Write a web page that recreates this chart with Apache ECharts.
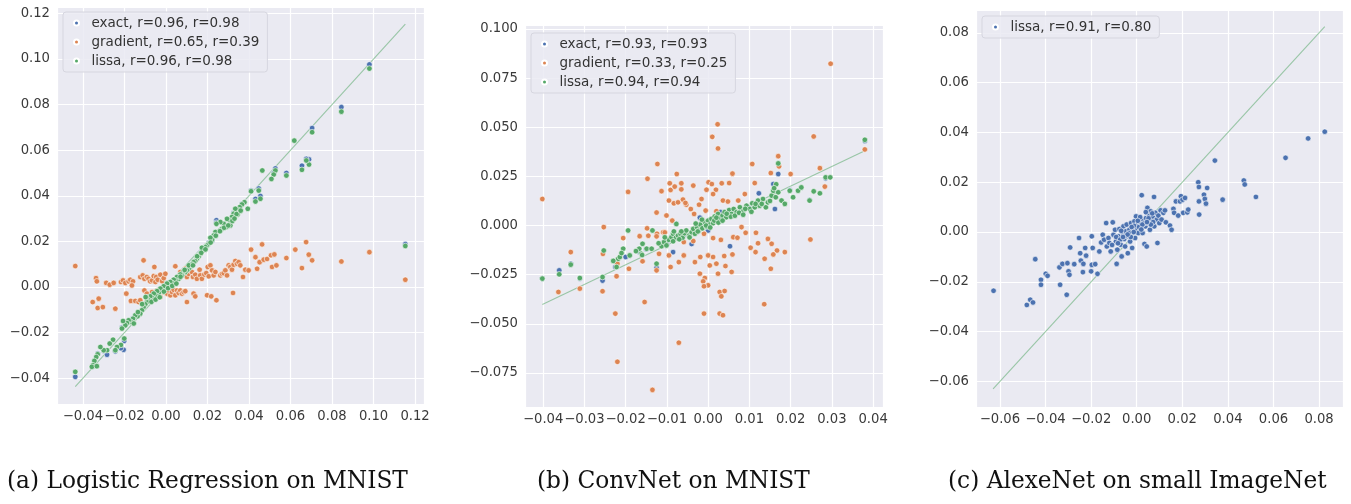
<!DOCTYPE html>
<html><head><meta charset="utf-8">
<script src="https://cdn.jsdelivr.net/npm/echarts@6/dist/echarts.min.js"></script>
<style>html,body{margin:0;padding:0;background:#fff}#c{width:1351px;height:504px}</style>
</head><body><div id="c"></div>
<script>
// ---------- DATA ----------
const captions = ['(a) Logistic Regression on MNIST', '(b) ConvNet on MNIST', '(c) AlexeNet on small ImageNet'];
const legendA = ['exact, r=0.96, r=0.98', 'gradient, r=0.65, r=0.39', 'lissa, r=0.96, r=0.98'];
const legendB = ['exact, r=0.93, r=0.93', 'gradient, r=0.33, r=0.25', 'lissa, r=0.94, r=0.94'];
const legendC = ['lissa, r=0.91, r=0.80'];

const aXTicks = [-0.04, -0.02, 0, 0.02, 0.04, 0.06, 0.08, 0.10, 0.12];
const aYTicks = [-0.04, -0.02, 0, 0.02, 0.04, 0.06, 0.08, 0.10, 0.12];
const bXTicks = [-0.04, -0.03, -0.02, -0.01, 0, 0.01, 0.02, 0.03, 0.04];
const bYTicks = [-0.075, -0.05, -0.025, 0, 0.025, 0.05, 0.075, 0.1];
const cXTicks = [-0.06, -0.04, -0.02, 0, 0.02, 0.04, 0.06, 0.08];
const cYTicks = [-0.06, -0.04, -0.02, 0, 0.02, 0.04, 0.06, 0.08];

const aRangeX = [-0.0525, 0.1243], aRangeY = [-0.0513, 0.1228];
const bRangeX = [-0.0444, 0.0424], bRangeY = [-0.0923, 0.102];
const cRangeX = [-0.0705, 0.0905], cRangeY = [-0.0703, 0.0892];

const aDiag = [-0.0437, 0.1153];
const bDiag = [-0.0402, 0.0380];
const cDiag = [-0.0630, 0.0825];

const aExact = [[0.1153,0.0188],[0.0980,0.0976],[0.0845,0.0789],[0.0704,0.0697],[0.0689,0.0560],[0.0676,0.0562],[0.0655,0.0532],[0.0580,0.0500],[0.0527,0.0520],[0.0519,0.0500],[0.0455,0.0399],[0.0447,0.0432],[0.0431,0.0386],[0.0410,0.0423],[0.0366,0.0365],[0.0345,0.0343],[0.0326,0.0325],[0.0307,0.0296],[0.0243,0.0293],[0.0243,0.0282],[0.0222,0.0203],[0.0206,0.0194],[0.0165,0.0150],[0.0125,0.0102],[0.0085,0.0073],[0.0045,0.0032],[0.0005,0.0017],[-0.0035,-0.0024],[-0.0076,-0.0038],[-0.0108,-0.0086],[-0.0137,-0.0125],[-0.0159,-0.0137],[-0.0188,-0.0156],[-0.0212,-0.0178],[-0.0201,-0.0236],[-0.0204,-0.0275],[-0.0217,-0.0268],[-0.0244,-0.0282],[-0.0284,-0.0297],[-0.0300,-0.0280],[-0.0329,-0.0292],[-0.0352,-0.0348],[-0.0437,-0.0394]];

const aGradient = [[-0.0437,0.0092],[-0.0337,0.0039],[-0.0333,0.0025],[-0.0353,-0.0066],[-0.0324,-0.0051],[-0.0329,-0.0092],[-0.0304,-0.0088],[-0.0244,-0.0095],[-0.0288,0.0018],[-0.0271,0.0010],[-0.0252,0.0018],[-0.0217,0.0022],[-0.0191,-0.0029],[-0.0207,0.0029],[-0.0196,0.0018],[-0.0180,0.0025],[-0.0172,0.0032],[-0.0159,0.0025],[-0.0164,0.0007],[-0.0169,-0.0061],[-0.0148,-0.0061],[-0.0132,-0.0066],[-0.0124,-0.0058],[-0.0124,0.0044],[-0.0112,0.0051],[-0.0104,0.0036],[-0.0092,0.0044],[-0.0084,0.0036],[-0.0076,0.0025],[-0.0067,0.0029],[-0.0059,0.0048],[-0.0051,0.0022],[-0.0047,0.0044],[-0.0040,0.0032],[-0.0027,0.0054],[-0.0019,0.0026],[-0.0011,0.0039],[-0.0003,0.0058],[-0.0108,0.0117],[-0.0056,0.0088],[-0.0104,-0.0015],[-0.0092,-0.0029],[-0.0084,-0.0058],[-0.0079,-0.0044],[-0.0067,-0.0022],[-0.0059,-0.0036],[-0.0056,-0.0051],[-0.0043,-0.0015],[-0.0035,-0.0029],[-0.0027,-0.0044],[-0.0014,-0.0022],[-0.0008,-0.0007],[0.0005,-0.0029],[0.0013,-0.0015],[0.0021,-0.0036],[0.0029,-0.0022],[0.0037,-0.0012],[0.0045,-0.0036],[0.0053,-0.0015],[0.0061,-0.0026],[0.0069,-0.0015],[0.0077,-0.0029],[0.0085,-0.0022],[0.0101,-0.0066],[0.0093,-0.0018],[0.0133,-0.0029],[0.0141,-0.0041],[0.0045,0.0091],[0.0069,0.0066],[0.0093,0.0080],[0.0101,0.0044],[0.0109,0.0058],[0.0125,0.0066],[0.0130,0.0044],[0.0141,0.0054],[0.0149,0.0036],[0.0162,0.0076],[0.0165,0.0051],[0.0173,0.0036],[0.0185,0.0055],[0.0194,0.0061],[0.0201,0.0088],[0.0206,0.0047],[0.0214,0.0095],[0.0222,0.0073],[0.0230,0.0051],[0.0238,0.0066],[0.0198,-0.0036],[0.0218,-0.0041],[0.0243,-0.0058],[0.0262,0.0051],[0.0270,0.0058],[0.0278,0.0061],[0.0286,0.0073],[0.0294,0.0051],[0.0302,0.0095],[0.0310,0.0088],[0.0318,0.0076],[0.0326,0.0098],[0.0334,0.0114],[0.0323,-0.0026],[0.0342,0.0102],[0.0350,0.0109],[0.0358,0.0095],[0.0371,0.0044],[0.0382,0.0076],[0.0398,0.0073],[0.0410,0.0164],[0.0431,0.0131],[0.0439,0.0080],[0.0451,0.0109],[0.0463,0.0187],[0.0471,0.0120],[0.0487,0.0123],[0.0506,0.0139],[0.0511,0.0088],[0.0522,0.0143],[0.0532,0.0095],[0.0580,0.0127],[0.0623,0.0164],[0.0655,0.0083],[0.0675,0.0197],[0.0688,0.0142],[0.0704,0.0117],[0.0845,0.0112],[0.0980,0.0153],[0.1153,0.0032]];

const aLissa = [[0.1153,0.0180],[0.0980,0.0958],[0.0845,0.0769],[0.0704,0.0679],[0.0689,0.0537],[0.0676,0.0555],[0.0655,0.0514],[0.0618,0.0642],[0.0580,0.0489],[0.0527,0.0511],[0.0519,0.0493],[0.0508,0.0474],[0.0464,0.0511],[0.0455,0.0387],[0.0447,0.0423],[0.0431,0.0375],[0.0410,0.0420],[0.0394,0.0343],[0.0378,0.0372],[0.0366,0.0362],[0.0355,0.0350],[0.0345,0.0339],[0.0334,0.0343],[0.0345,0.0318],[0.0326,0.0321],[0.0318,0.0307],[0.0307,0.0292],[0.0310,0.0270],[0.0294,0.0299],[0.0291,0.0263],[0.0278,0.0277],[0.0270,0.0255],[0.0262,0.0285],[0.0243,0.0277],[0.0238,0.0241],[0.0230,0.0226],[0.0222,0.0207],[0.0214,0.0216],[0.0206,0.0190],[0.0198,0.0182],[0.0190,0.0175],[0.0182,0.0164],[0.0173,0.0172],[0.0165,0.0146],[0.0157,0.0134],[0.0149,0.0124],[0.0141,0.0114],[0.0133,0.0109],[0.0125,0.0099],[0.0117,0.0088],[0.0109,0.0080],[0.0101,0.0073],[0.0093,0.0066],[0.0085,0.0070],[0.0077,0.0051],[0.0069,0.0055],[0.0061,0.0036],[0.0053,0.0044],[0.0045,0.0029],[0.0037,0.0032],[0.0029,0.0018],[0.0021,0.0022],[0.0013,0.0007],[0.0005,0.0015],[-0.0003,-0.0003],[-0.0011,0.0003],[-0.0019,-0.0015],[-0.0027,-0.0007],[-0.0035,-0.0026],[-0.0043,-0.0018],[-0.0051,-0.0036],[-0.0059,-0.0029],[-0.0067,-0.0047],[-0.0076,-0.0041],[-0.0084,-0.0058],[-0.0092,-0.0066],[-0.0100,-0.0076],[-0.0108,-0.0088],[-0.0116,-0.0102],[-0.0124,-0.0117],[-0.0137,-0.0128],[-0.0148,-0.0124],[-0.0159,-0.0139],[-0.0169,-0.0153],[-0.0180,-0.0146],[-0.0188,-0.0158],[-0.0196,-0.0168],[-0.0207,-0.0149],[-0.0212,-0.0182],[-0.0201,-0.0226],[-0.0217,-0.0254],[-0.0236,-0.0263],[-0.0255,-0.0231],[-0.0244,-0.0277],[-0.0271,-0.0248],[-0.0284,-0.0277],[-0.0300,-0.0277],[-0.0316,-0.0263],[-0.0329,-0.0295],[-0.0336,-0.0307],[-0.0345,-0.0324],[-0.0352,-0.0343],[-0.0357,-0.0350],[-0.0333,-0.0347],[-0.0437,-0.0372],[-0.0095,-0.0045],[-0.0070,-0.0065],[-0.0050,-0.0055],[-0.0030,-0.0045],[-0.0010,-0.0020],[0.0010,-0.0005],[0.0030,0.0005],[0.0050,0.0015],[0.0070,0.0045],[0.0090,0.0075],[0.0110,0.0095],[0.0130,0.0095],[0.0150,0.0135],[0.0170,0.0150],[0.0190,0.0165],[-0.0115,-0.0075],[-0.0135,-0.0110],[-0.0155,-0.0160],[0.0215,0.0195],[0.0240,0.0225],[0.0260,0.0245],[0.0280,0.0260],[0.0300,0.0270],[0.0320,0.0290],[0.0340,0.0320],[0.0360,0.0335],[0.0330,0.0300],[-0.0098,-0.0044]];

const bExact = [[-0.0361,-0.0228],[-0.0333,-0.0194],[-0.0311,-0.0270],[-0.0256,-0.0280],[-0.0225,-0.0211],[-0.0167,-0.0135],[-0.0125,-0.0215],[-0.0085,-0.0135],[-0.0077,0.0010],[-0.0040,-0.0094],[-0.0020,0.0040],[0.0000,-0.0025],[0.0030,0.0068],[0.0053,-0.0105],[0.0123,0.0164],[0.0158,0.0211],[0.0170,0.0262],[0.0162,0.0084],[0.0198,0.0180],[0.0285,0.0240],[0.0246,0.0130],[0.0380,0.0430],[-0.0402,-0.0270],[0.0100,0.0090],[0.0060,0.0070],[-0.0060,-0.0050],[-0.0100,-0.0095],[-0.0150,-0.0120],[-0.0200,-0.0160]];

const bGradient = [[-0.0402,0.0135],[0.0297,0.0823],[0.0023,0.0515],[0.0010,0.0451],[0.0024,0.0392],[0.0256,0.0453],[0.0380,0.0387],[-0.0123,0.0313],[-0.0076,0.0262],[-0.0147,0.0238],[-0.0194,0.0171],[0.0107,0.0313],[0.0170,0.0353],[0.0172,0.0301],[0.0200,0.0262],[0.0271,0.0292],[0.0283,0.0198],[0.0152,0.0267],[0.0113,0.0216],[0.0059,0.0264],[0.0001,0.0220],[0.0009,0.0211],[0.0033,0.0215],[0.0019,0.0182],[-0.0036,0.0203],[-0.0065,0.0215],[-0.0093,0.0215],[-0.0091,0.0181],[-0.0065,0.0184],[-0.0004,0.0182],[0.0051,0.0216],[-0.0095,0.0127],[-0.0083,0.0113],[-0.0073,0.0118],[-0.0061,0.0132],[-0.0053,0.0106],[-0.0042,0.0084],[-0.0022,0.0106],[-0.0016,0.0135],[0.0012,0.0160],[0.0036,0.0127],[0.0048,0.0122],[0.0073,0.0127],[0.0089,0.0160],[-0.0125,0.0066],[-0.0101,0.0051],[-0.0087,0.0025],[-0.0034,0.0059],[-0.0006,0.0076],[0.0020,0.0073],[-0.0253,-0.0008],[-0.0206,-0.0064],[-0.0166,-0.0054],[-0.0145,-0.0052],[-0.0124,-0.0042],[-0.0109,-0.0034],[-0.0085,-0.0064],[-0.0059,-0.0084],[-0.0036,-0.0079],[-0.0010,-0.0042],[0.0012,-0.0064],[0.0031,-0.0073],[0.0061,-0.0059],[0.0071,-0.0062],[0.0081,-0.0008],[0.0091,-0.0037],[0.0116,-0.0037],[0.0121,-0.0090],[0.0145,-0.0068],[0.0154,-0.0093],[0.0167,-0.0127],[0.0186,-0.0135],[0.0248,-0.0071],[-0.0333,-0.0135],[-0.0255,-0.0144],[-0.0220,-0.0194],[-0.0192,-0.0220],[-0.0159,-0.0182],[-0.0119,-0.0144],[-0.0095,-0.0152],[-0.0071,-0.0186],[-0.0059,-0.0152],[-0.0032,-0.0186],[-0.0019,-0.0160],[0.0000,-0.0152],[0.0012,-0.0160],[0.0039,-0.0155],[0.0059,-0.0147],[0.0103,-0.0113],[0.0115,-0.0135],[0.0137,-0.0169],[0.0158,-0.0147],[0.0152,-0.0220],[-0.0125,-0.0228],[-0.0091,-0.0211],[-0.0020,-0.0245],[-0.0008,-0.0267],[0.0004,-0.0203],[0.0020,-0.0194],[0.0042,-0.0206],[0.0057,-0.0236],[0.0024,-0.0245],[-0.0012,-0.0284],[0.0000,-0.0304],[-0.0010,-0.0309],[0.0028,-0.0338],[0.0040,-0.0333],[0.0032,-0.0360],[-0.0010,-0.0448],[0.0028,-0.0448],[0.0036,-0.0456],[0.0136,-0.0400],[-0.0154,-0.0389],[-0.0225,-0.0448],[-0.0220,-0.0693],[-0.0071,-0.0596],[-0.0135,-0.0836],[-0.0363,-0.0338],[-0.0256,-0.0334],[-0.0311,-0.0321],[-0.0222,-0.0258],[-0.0148,-0.0014],[-0.0125,-0.0055],[-0.0105,-0.0035],[-0.0081,0.0198],[-0.0055,0.0115],[-0.0113,0.0175]];

const bLissa = [[0.0380,0.0436],[-0.0402,-0.0270],[-0.0361,-0.0248],[-0.0333,-0.0199],[-0.0311,-0.0267],[-0.0256,-0.0262],[-0.0253,-0.0127],[-0.0222,-0.0211],[-0.0218,-0.0169],[-0.0214,-0.0160],[-0.0194,-0.0025],[-0.0206,-0.0118],[-0.0190,-0.0152],[-0.0167,-0.0118],[-0.0162,-0.0144],[-0.0159,-0.0093],[-0.0149,-0.0118],[-0.0137,-0.0118],[-0.0135,-0.0025],[-0.0125,-0.0194],[-0.0113,-0.0105],[-0.0107,-0.0084],[-0.0101,-0.0101],[-0.0095,-0.0073],[-0.0089,-0.0059],[-0.0085,-0.0042],[-0.0077,0.0008],[-0.0078,-0.0062],[-0.0073,-0.0051],[-0.0067,-0.0042],[-0.0062,-0.0062],[-0.0057,-0.0039],[-0.0053,-0.0025],[-0.0046,-0.0051],[-0.0040,-0.0034],[-0.0036,-0.0017],[-0.0032,-0.0042],[-0.0027,-0.0008],[-0.0022,-0.0025],[-0.0019,0.0005],[-0.0014,-0.0014],[-0.0008,0.0017],[-0.0004,-0.0005],[0.0000,0.0025],[0.0004,0.0005],[0.0008,0.0034],[0.0012,0.0012],[0.0016,0.0046],[0.0020,0.0025],[0.0024,0.0059],[0.0028,0.0034],[0.0035,0.0051],[0.0040,0.0068],[0.0044,0.0042],[0.0051,0.0079],[0.0057,0.0059],[0.0062,0.0084],[0.0069,0.0068],[0.0077,0.0093],[0.0085,0.0073],[0.0093,0.0101],[0.0101,0.0084],[0.0107,0.0113],[0.0113,0.0093],[0.0121,0.0127],[0.0125,0.0101],[0.0133,0.0135],[0.0140,0.0093],[0.0145,0.0118],[0.0154,0.0152],[0.0158,0.0177],[0.0164,0.0144],[0.0170,0.0316],[0.0170,0.0169],[0.0178,0.0127],[0.0186,0.0110],[0.0198,0.0177],[0.0206,0.0144],[0.0218,0.0177],[0.0226,0.0194],[0.0246,0.0127],[0.0256,0.0174],[0.0271,0.0164],[0.0285,0.0245],[0.0296,0.0245],[-0.0065,-0.0030],[-0.0045,-0.0060],[-0.0025,-0.0030],[-0.0005,0.0000],[0.0015,0.0025],[0.0025,0.0015],[0.0035,0.0025],[0.0055,0.0045],[0.0065,0.0050],[0.0075,0.0065],[0.0090,0.0085],[0.0105,0.0070],[0.0115,0.0110],[0.0130,0.0110],[0.0150,0.0125],[0.0165,0.0210],[0.0160,0.0190],[-0.0120,-0.0090],[-0.0105,-0.0060],[-0.0085,-0.0080],[-0.0070,-0.0070],[-0.0015,0.0030],[0.0005,-0.0010],[0.0020,0.0040],[0.0045,0.0060],[0.0085,0.0055],[-0.0030,0.0010],[-0.0160,-0.0150],[-0.0175,-0.0130],[-0.0230,-0.0180],[-0.0210,-0.0140],[-0.0083,-0.0030]];

const cLissa = [[-0.0628,-0.0236],[-0.0482,-0.0293],[-0.0467,-0.0272],[-0.0455,-0.0283],[-0.0445,-0.0109],[-0.0420,-0.0192],[-0.0420,-0.0212],[-0.0399,-0.0168],[-0.0391,-0.0176],[-0.0339,-0.0142],[-0.0336,-0.0212],[-0.0326,-0.0128],[-0.0307,-0.0252],[-0.0304,-0.0125],[-0.0299,-0.0158],[-0.0295,-0.0172],[-0.0292,-0.0062],[-0.0274,-0.0129],[-0.0253,-0.0024],[-0.0248,-0.0085],[-0.0245,-0.0115],[-0.0236,-0.0161],[-0.0234,-0.0128],[-0.0226,-0.0064],[-0.0222,-0.0095],[-0.0200,-0.0158],[-0.0197,-0.0017],[-0.0197,-0.0132],[-0.0193,-0.0064],[-0.0182,-0.0129],[-0.0172,-0.0168],[-0.0164,-0.0078],[-0.0156,-0.0042],[-0.0149,-0.0011],[-0.0143,-0.0031],[-0.0134,0.0036],[-0.0131,-0.0058],[-0.0124,-0.0024],[-0.0120,-0.0044],[-0.0114,-0.0078],[-0.0105,0.0039],[-0.0102,-0.0011],[-0.0095,0.0009],[-0.0091,-0.0038],[-0.0088,-0.0128],[-0.0085,-0.0071],[-0.0080,-0.0017],[-0.0076,0.0012],[-0.0070,-0.0051],[-0.0066,-0.0098],[-0.0061,-0.0004],[-0.0058,0.0023],[-0.0055,-0.0028],[-0.0051,-0.0058],[-0.0047,0.0003],[-0.0044,0.0030],[-0.0039,-0.0085],[-0.0036,-0.0017],[-0.0032,0.0009],[-0.0029,-0.0038],[-0.0025,0.0036],[-0.0020,-0.0064],[-0.0018,-0.0004],[-0.0015,0.0016],[-0.0010,0.0043],[-0.0007,-0.0024],[-0.0003,0.0063],[0.0000,0.0009],[0.0003,0.0030],[0.0007,-0.0004],[0.0012,0.0043],[0.0015,0.0016],[0.0018,0.0036],[0.0022,0.0148],[0.0026,-0.0004],[0.0029,0.0050],[0.0034,-0.0048],[0.0038,0.0023],[0.0041,0.0056],[0.0044,-0.0058],[0.0047,0.0097],[0.0051,0.0036],[0.0055,0.0070],[0.0058,0.0009],[0.0061,0.0083],[0.0066,0.0050],[0.0070,0.0063],[0.0076,0.0141],[0.0077,0.0023],[0.0082,0.0077],[0.0088,0.0050],[0.0091,-0.0044],[0.0095,0.0066],[0.0099,0.0036],[0.0105,0.0087],[0.0109,0.0050],[0.0117,0.0077],[0.0124,0.0087],[0.0128,0.0039],[0.0146,0.0026],[0.0153,0.0009],[0.0161,0.0093],[0.0164,0.0077],[0.0172,0.0123],[0.0182,0.0066],[0.0190,0.0123],[0.0194,0.0144],[0.0201,0.0130],[0.0204,0.0077],[0.0212,0.0137],[0.0222,0.0079],[0.0226,0.0090],[0.0270,0.0200],[0.0273,0.0181],[0.0273,0.0123],[0.0274,0.0070],[0.0295,0.0150],[0.0299,0.0133],[0.0304,0.0114],[0.0309,0.0177],[0.0343,0.0287],[0.0377,0.0130],[0.0470,0.0207],[0.0474,0.0191],[0.0523,0.0141],[0.0653,0.0298],[0.0752,0.0376],[0.0825,0.0403],[-0.0090,-0.0020],[-0.0068,0.0005],[-0.0050,-0.0015],[-0.0033,-0.0005],[-0.0012,0.0025],[0.0010,0.0020],[0.0032,0.0035],[0.0052,0.0055],[0.0072,0.0040],[-0.0108,-0.0052],[-0.0072,-0.0030],[-0.0026,-0.0020],[0.0015,0.0060],[0.0040,0.0080],[0.0062,0.0030],[-0.0040,-0.0010],[-0.0022,0.0020],[0.0005,0.0045],[0.0025,0.0030],[0.0045,0.0040],[-0.0060,-0.0020],[-0.0082,-0.0045],[-0.0013,0.0000],[0.0020,0.0010],[0.0068,0.0075]];

// ---------- CHART ----------
const BLUE = '#4C72B0', ORANGE = '#DD8452', GREEN = '#55A868';
const TICKFONT = 'DejaVu Sans';

function fmt(ticks, dec) {
  return function (v) {
    for (const t of ticks) {
      if (Math.abs(v - t) < 1e-9) return (t < 0 ? '\u2212' : '') + Math.abs(t).toFixed(dec);
    }
    return '';
  };
}
function mkAxis(gi, range, step, ticks, dec, isX) {
  return {
    type: 'value', gridIndex: gi, min: range[0], max: range[1],
    minInterval: step, maxInterval: step, splitNumber: 10, scale: true,
    axisLine: { show: false }, axisTick: { show: false },
    splitLine: { show: true, lineStyle: { color: '#ffffff', width: 1.2 } },
    axisLabel: { formatter: fmt(ticks, dec), color: '#3a3a3a', fontSize: 13.2, fontFamily: TICKFONT,
      margin: isX ? 6 : 7, showMinLabel: true, showMaxLabel: true }
  };
}
function scatter(name, data, color, xi) {
  return { type: 'scatter', name: name, data: data, xAxisIndex: xi, yAxisIndex: xi,
    symbol: 'circle', symbolSize: 5.6,
    itemStyle: { color: color, borderColor: '#ffffff', borderWidth: 0.6, opacity: 1 },
    emphasis: { disabled: true }, z: 3 };
}
function diag(name, ends, xi) {
  return { type: 'line', name: name, data: [[ends[0], ends[0]], [ends[1], ends[1]]],
    xAxisIndex: xi, yAxisIndex: xi, symbol: 'none', silent: true, z: 2,
    lineStyle: { color: GREEN, width: 1.1, opacity: 0.55 } };
}
function legend(names, left, top) {
  return { data: names.map(n => ({ name: n, icon: 'circle' })), orient: 'vertical', left: left, top: top,
    itemWidth: 20, itemHeight: 5, itemGap: 5, selectedMode: false,
    backgroundColor: 'rgba(234,234,242,0.85)', borderColor: '#d6d6df', borderWidth: 1, borderRadius: 3,
    padding: [4, 8, 4, 10],
    textStyle: { fontFamily: TICKFONT, fontSize: 13.5, color: '#333', lineHeight: 14 } };
}
function caption(text, left) {
  return { text: text, left: left, top: 470, padding: 0,
    textStyle: { fontFamily: 'DejaVu Serif', fontWeight: 'normal', fontSize: 23.3, color: '#111' } };
}

const chart = echarts.init(document.getElementById('c'), null, { renderer: 'canvas' });
chart.setOption({
  animation: false,
  backgroundColor: '#ffffff',
  title: [caption(captions[0], 7), caption(captions[1], 537), caption(captions[2], 948)],
  grid: [
    { left: 57, top: 7, width: 367, height: 397, show: true, backgroundColor: '#EAEAF2', borderWidth: 0 },
    { left: 525, top: 25, width: 358, height: 382, show: true, backgroundColor: '#EAEAF2', borderWidth: 0 },
    { left: 976, top: 10, width: 367, height: 397, show: true, backgroundColor: '#EAEAF2', borderWidth: 0 }
  ],
  xAxis: [
    mkAxis(0, aRangeX, 0.02, aXTicks, 2, true),
    mkAxis(1, bRangeX, 0.01, bXTicks, 2, true),
    mkAxis(2, cRangeX, 0.02, cXTicks, 2, true)
  ],
  yAxis: [
    mkAxis(0, aRangeY, 0.02, aYTicks, 2, false),
    mkAxis(1, bRangeY, 0.025, bYTicks, 3, false),
    mkAxis(2, cRangeY, 0.02, cYTicks, 2, false)
  ],
  legend: [legend(legendA, 63, 12), legend(legendB, 531, 33), legend(legendC, 982, 16)],
  series: [
    diag('diagA', aDiag, 0),
    scatter(legendA[0], aExact, BLUE, 0),
    scatter(legendA[1], aGradient, ORANGE, 0),
    scatter(legendA[2], aLissa, GREEN, 0),
    diag('diagB', bDiag, 1),
    scatter(legendB[0], bExact, BLUE, 1),
    scatter(legendB[1], bGradient, ORANGE, 1),
    scatter(legendB[2], bLissa, GREEN, 1),
    diag('diagC', cDiag, 2),
    scatter(legendC[0], cLissa, BLUE, 2)
  ]
});
</script></body></html>
